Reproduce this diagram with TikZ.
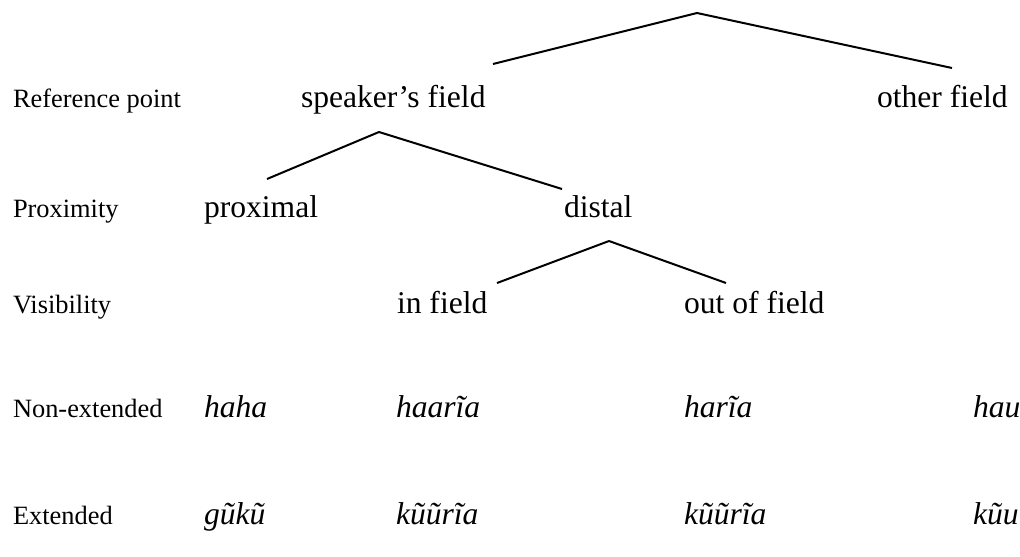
\documentclass[tikz,border=0pt]{standalone}
\usepackage{fontspec}
\setmainfont{Liberation Serif}

\begin{document}
\begin{tikzpicture}[x=0.5pt,y=-0.5pt,line width=1pt,
                    tierlabel/.style={anchor=base west,inner sep=0pt,font=\fontsize{13.2}{16}\selectfont},
                    category/.style={anchor=base west,inner sep=0pt,font=\fontsize{15.8}{19}\selectfont},
                    form/.style={category,font=\fontsize{15.8}{19}\selectfont\itshape}]
  \useasboundingbox (0,0) rectangle (1020,556);

  % tiers on the left
  \node[tierlabel] (refpt)  at (12,107) {Reference point};
  \node[tierlabel] (prox)   at (12,217) {Proximity};
  \node[tierlabel] (vis)    at (12,313) {Visibility};
  \node[tierlabel] (nonext) at (12,417) {Non-extended};
  \node[tierlabel] (ext)    at (12,524) {Extended};

  \node[category] (speaker)  at (300,107) {speaker's field};
  \node[category] (other)    at (876,107) {other field};
  \node[category] (proximal) at (203,217) {proximal};
  \node[category] (distal)   at (563,217) {distal};
  \node[category] (infield)  at (396,313) {in field};
  \node[category] (outfield) at (683,313) {out of field};

  \node[form] (haha)   at (203,417) {haha};
  \node[form] (haaria) at (395,417) {haarĩa};
  \node[form] (haria)  at (683,417) {harĩa};
  \node[form] (hau)    at (972,417) {hau};

  \node[form] (guku)    at (203,524) {gũkũ};
  \node[form] (kuuria)  at (395,524) {kũũrĩa};
  \node[form] (kuuriaB) at (683,524) {kũũrĩa};
  \node[form] (kuu)     at (972,524) {kũu};

  % branch points and branch ends
  \coordinate (root)     at (697,13);
  \coordinate (rootL)    at (493,64);
  \coordinate (rootR)    at (952,68);
  \coordinate (spkTop)   at (379,132);
  \coordinate (spkL)     at (267,179);
  \coordinate (spkR)     at (562,189);
  \coordinate (distTop)  at (609,241);
  \coordinate (distL)    at (497,283);
  \coordinate (distR)    at (726,283);

  \path (root) edge (rootL)
               edge (rootR)
        (spkTop) edge (spkL)
                 edge (spkR)
        (distTop) edge (distL)
                  edge (distR);

\end{tikzpicture}
\end{document}
